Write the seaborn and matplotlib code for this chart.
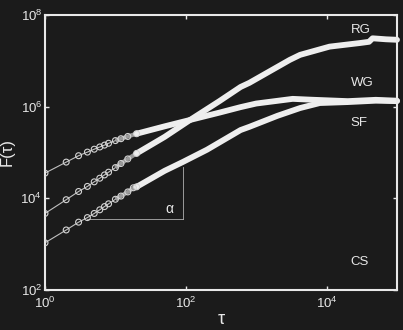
import matplotlib
matplotlib.use("Agg")
import matplotlib.pyplot as plt
import seaborn as sns
import numpy as np
import pandas as pd
from matplotlib.ticker import LogFormatterMathtext, NullLocator

# ---- data ----
tau_wg = [1, 2, 3, 4, 5, 6, 7, 8, 10, 12, 15, 20, 50, 115, 300, 600, 1000, 3300, 6000, 20000, 50000, 100000]
F_wg = [3.55e4, 6.17e4, 8.51e4, 1.02e5, 1.18e5, 1.32e5, 1.45e5, 1.59e5, 1.82e5, 2.0e5, 2.24e5, 2.57e5,
        3.72e5, 5.13e5, 7.41e5, 9.77e5, 1.17e6, 1.48e6, 1.42e6, 1.32e6, 1.41e6, 1.35e6]

tau_rg = [1, 2, 3, 4, 5, 6, 7, 8, 10, 12, 15, 20, 50, 115, 300, 600, 800, 3000, 4200, 11000, 30000, 40000, 45000, 70000, 100000]
F_rg = [4.68e3, 9.33e3, 1.41e4, 1.82e4, 2.29e4, 2.75e4, 3.24e4, 3.72e4, 4.68e4, 5.75e4, 7.24e4, 9.55e4,
        2.19e5, 5.13e5, 1.32e6, 2.69e6, 3.31e6, 1.05e7, 1.35e7, 2.04e7, 2.45e7, 2.6e7, 3.1e7, 2.95e7, 2.88e7]

tau_sf = [1, 2, 3, 4, 5, 6, 7, 8, 10, 12, 15, 18, 20, 50, 90, 200, 600, 800, 2000, 4200, 8000, 20000, 50000, 100000]
F_sf = [1.07e3, 2.04e3, 3.02e3, 3.80e3, 4.68e3, 5.62e3, 6.61e3, 7.59e3, 9.55e3, 1.12e4, 1.38e4, 1.70e4, 1.78e4,
        3.98e4, 6.17e4, 1.15e5, 3.09e5, 3.63e5, 6.31e5, 9.33e5, 1.20e6, 1.26e6, 1.35e6, 1.32e6]

series = {"RG": (tau_rg, F_rg), "WG": (tau_wg, F_wg), "SF": (tau_sf, F_sf)}
labels = ["RG", "WG", "SF", "CS"]
x_ticks = [1e0, 1e2, 1e4]
y_ticks = [1e2, 1e4, 1e6, 1e8]

# ---- style ----
BG = "#1b1b1b"
FG = "#e8e8e8"
plt.rcParams["font.family"] = ["Liberation Sans", "DejaVu Sans"]
plt.rcParams["mathtext.fontset"] = "custom"
plt.rcParams["mathtext.rm"] = "Liberation Sans"
plt.rcParams["mathtext.it"] = "Liberation Sans:italic"

fig = plt.figure(figsize=(4.03, 3.30), dpi=100, facecolor=BG)
ax = fig.add_axes([45 / 403, 1 - 290 / 330, 352 / 403, 275 / 330])
ax.set_facecolor(BG)
ax.set_xscale("log")
ax.set_yscale("log")
ax.set_xlim(1, 1e5)
ax.set_ylim(1e2, 1e8)

for name, (t, f) in series.items():
    df = pd.DataFrame({"tau": t, "F": f})
    # thin connecting line through all points
    sns.lineplot(data=df, x="tau", y="F", ax=ax, color="#c0c0c0", lw=0.8,
                 estimator=None, sort=False, legend=False)
    # overlapping-marker zone: medium grey band
    mid = df[(df["tau"] >= 10) & (df["tau"] <= 50)]
    sns.lineplot(data=mid, x="tau", y="F", ax=ax, color="#9a9a9a", lw=3.0,
                 estimator=None, sort=False, legend=False, solid_capstyle="butt")
    # dense part: markers merge into a thick white band
    dense = df[df["tau"] >= 20]
    sns.lineplot(data=dense, x="tau", y="F", ax=ax, color="#eeeeee", lw=4.2,
                 estimator=None, sort=False, legend=False,
                 solid_capstyle="round", solid_joinstyle="round", clip_on=False)
    # sparse part: open circles
    sparse = df[df["tau"] <= 20]
    sns.scatterplot(data=sparse, x="tau", y="F", ax=ax, marker="o", s=18,
                    facecolor="none", edgecolor="#d4d4d4", linewidth=0.8, legend=False, zorder=5)

# alpha slope triangle
ax.plot([4, 91], [3550, 3550], color="#b0b0b0", lw=0.6)
ax.plot([91, 91], [3550, 4.8e4], color="#b0b0b0", lw=0.6)
ax.text(59, 5.9e3, "α", color=FG, fontsize=10, ha="center", va="center")

# curve labels
label_pos = {"RG": 4.8e7, "WG": 3.3e6, "SF": 4.5e5, "CS": 4.1e2}
for lab in labels:
    ax.text(2.2e4, label_pos[lab], lab, color=FG, fontsize=9.5, ha="left", va="center")

# axes
for sp in ax.spines.values():
    sp.set_color(FG)
    sp.set_linewidth(1.5)
ax.set_xticks(x_ticks)
ax.set_yticks(y_ticks)
ax.xaxis.set_major_formatter(LogFormatterMathtext())
ax.yaxis.set_major_formatter(LogFormatterMathtext())
ax.xaxis.set_minor_locator(NullLocator())
ax.yaxis.set_minor_locator(NullLocator())
ax.tick_params(which="major", direction="in", length=3, width=1, colors=FG,
               labelsize=9.5, top=True, right=True, pad=2)
ax.tick_params(axis="x", pad=4)
ax.set_xlabel("τ", color=FG, fontsize=13, labelpad=0)
ax.set_ylabel("F(τ)", color=FG, fontsize=12, labelpad=4)
ax.grid(False)

fig.savefig("out.png", dpi=100, facecolor=BG)
